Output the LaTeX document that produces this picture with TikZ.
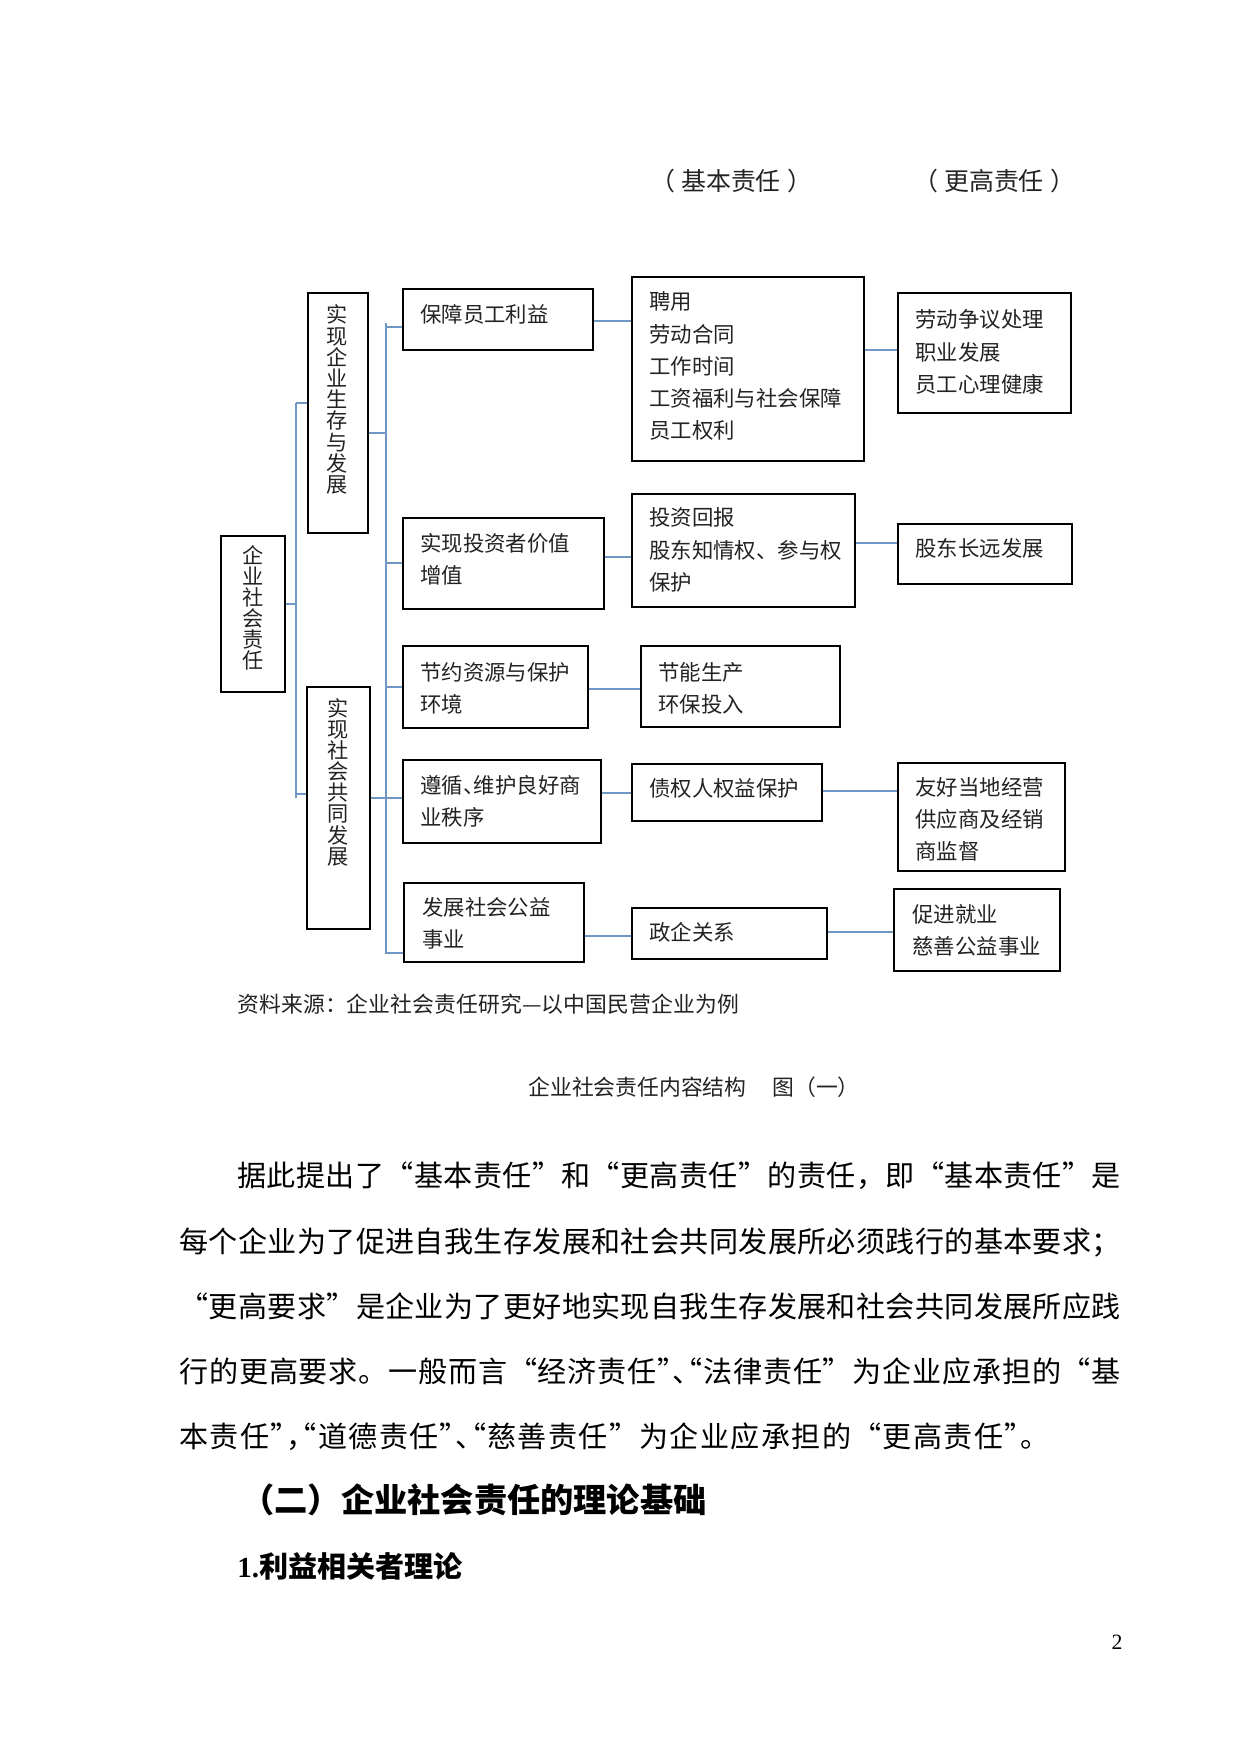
\documentclass[tikz,border=0pt]{standalone}
\usepackage{fontspec}
\setmainfont{Noto Sans CJK SC}
\newfontfamily\latinserif{Liberation Serif}
\usetikzlibrary{fit}
\definecolor{lnblue}{RGB}{112,151,196}
\definecolor{boxtext}{RGB}{35,35,35}
\makeatletter
\newcommand\spreadline[2]{\makebox[#1][s]{\@tfor\sp@c:=#2\do{\sp@c\hskip 0pt plus 1fil minus 1fil\relax}\unskip}}
\newcommand\vt[1]{\vtop{\baselineskip=10.2pt\lineskiplimit=-\maxdimen\lineskip=0pt
  \@tfor\vt@c:=#1\do{\hbox to 10.2pt{\hss\vt@c\hss}}}}
\makeatother
\newcommand\ml[1]{\begin{tabular}[t]{@{}l@{}}#1\end{tabular}}
\newcommand\hR{\makebox[0.5em][l]{”}}
\newcommand\hL{\makebox[0.5em][r]{“}}
\newcommand\hD{\makebox[0.5em][l]{、}}
\newcommand\hC{\makebox[0.5em][l]{，}}
\newcommand\hP{\makebox[0.5em][l]{。}}
\begin{document}
\begin{tikzpicture}[x=0.16922mm, y=-0.16922mm,
  box/.style={draw=black, line width=0.9pt, inner sep=0pt},
  thinbox/.style={box, line width=0.6pt},
  txt/.style={anchor=base west, inner sep=0pt, text=boxtext, font=\fontsize{10.3}{15.45}\selectfont},
  vtxt/.style={anchor=base, inner sep=0pt, text=boxtext, font=\fontsize{10.2}{10.2}\selectfont},
  small/.style={anchor=base west, inner sep=0pt, text=boxtext, font=\fontsize{10.5}{10.5}\selectfont},
  body/.style={anchor=base west, inner sep=0pt, text=black, font=\fontsize{14}{14}\selectfont},
  conn/.style={draw=lnblue, line width=1.3pt},
  thinconn/.style={draw=lnblue, line width=0.85pt},
]
\fill[white] (0,0) rectangle (1241,1754);
\useasboundingbox (0,0) rectangle (1241,1754);

% headings above the diagram
\node[anchor=base, inner sep=0pt, font=\fontsize{12}{12}\selectfont, text=boxtext] (hb) at (731,191) {（\hspace{3pt}基本责任\hspace{3pt}）};
\node[anchor=base, inner sep=0pt, font=\fontsize{12}{12}\selectfont, text=boxtext] (hg) at (994,191) {（\hspace{3pt}更高责任\hspace{3pt}）};

% boxes
\node[box, fit={(221,536) (285,692)}] (root) {};
\node[thinbox, fit={(308,293) (368,533)}] (s1) {};
\node[box, fit={(307,687) (370,929)}] (s2) {};

\node[box, fit={(403,289) (593,350)}] (c1) {};
\node[box, fit={(403,518) (604,609)}] (c2) {};
\node[box, fit={(403,646) (588,728)}] (c3) {};
\node[box, fit={(403,760) (601,843)}] (c4) {};
\node[box, fit={(404,883) (584,962)}] (c5) {};

\node[box, fit={(632,277) (864,461)}] (d1) {};
\node[box, fit={(632,494) (855,607)}] (d2) {};
\node[thinbox, fit={(641,646) (840,727)}] (d3) {};
\node[box, fit={(632,764) (822,821)}] (d4) {};
\node[box, fit={(632,908) (827,959)}] (d5) {};

\node[box, fit={(898,293) (1071,413)}] (e1) {};
\node[box, fit={(898,524) (1072,584)}] (e2) {};
\node[box, fit={(898,763) (1065,871)}] (e4) {};
\node[box, fit={(894,889) (1060,971)}] (e5) {};

% texts in boxes
\node[vtxt] (roott) at (253,563) {\vt{企业社会责任}};
\node[vtxt] (s1t) at (337,323) {\vt{实现企业生存与发展}};
\node[vtxt] (s2t) at (338,716) {\vt{实现社会共同发展}};

\node[txt] (c1t) at (420,323) {\ml{保障员工利益}};
\node[txt] (c2t) at (420,551) {\ml{实现投资者价值\\增值}};
\node[txt] (c3t) at (420,680) {\ml{节约资源与保护\\环境}};
\node[txt] (c4t) at (420,793) {\ml{遵循\hD 维护良好商\\业秩序}};
\node[txt] (c5t) at (422,915) {\ml{发展社会公益\\事业}};

\node[txt] (d1t) at (649,310) {\ml{聘用\\劳动合同\\工作时间\\工资福利与社会保障\\员工权利}};
\node[txt] (d2t) at (649,526) {\ml{投资回报\\股东知情权、参与权\\保护}};
\node[txt] (d3t) at (658,680) {\ml{节能生产\\环保投入}};
\node[txt] (d4t) at (649,796) {\ml{债权人权益保护}};
\node[txt] (d5t) at (649,940) {\ml{政企关系}};

\node[txt] (e1t) at (915,328) {\ml{劳动争议处理\\职业发展\\员工心理健康}};
\node[txt] (e2t) at (915,556) {\ml{股东长远发展}};
\node[txt] (e4t) at (915,795) {\ml{友好当地经营\\供应商及经销\\商监督}};
\node[txt] (e5t) at (912,922) {\ml{促进就业\\慈善公益事业}};

% first bracket
\coordinate (sp1top) at (296,403);
\coordinate (sp1mid) at (296,604);
\coordinate (sp1low) at (296,794);
\coordinate (sp1bot) at (296,798);
\draw[conn] (sp1top) -- (sp1bot);
\draw[conn] (sp1top) -- (sp1top -| s1.west);
\draw[conn] (sp1mid -| root.east) -- (sp1mid);
\draw[conn] (sp1low) -- (sp1low -| s2.west);

% second bracket
\coordinate (sp2top) at (386,323);
\coordinate (sp2bot) at (386,953);
\draw[conn] (sp2top) -- (sp2bot) -- (sp2bot -| c5.west);
\coordinate (k1) at (386,327);
\coordinate (k2) at (386,433);
\coordinate (k3) at (386,563);
\coordinate (k4) at (386,687);
\coordinate (k5) at (386,798);
\draw[conn] (k1) -- (k1 -| c1.west);
\draw[conn] (k2 -| s1.east) -- (k2);
\draw[conn] (k3) -- (k3 -| c2.west);
\draw[conn] (k4) -- (k4 -| c3.west);
\draw[conn] (k5 -| s2.east) -- (k5 -| c4.west);

% horizontal links
\coordinate (h1) at (0,321);
\coordinate (h2) at (0,350);
\coordinate (h3) at (0,557);
\coordinate (h4) at (0,543);
\coordinate (h5) at (0,689);
\coordinate (h6) at (0,793);
\coordinate (h7) at (0,791);
\coordinate (h8) at (0,936);
\coordinate (h9) at (0,932);
\draw[thinconn] (h1 -| c1.east) -- (h1 -| d1.west);
\draw[conn] (h2 -| d1.east) -- (h2 -| e1.west);
\draw[thinconn] (h3 -| c2.east) -- (h3 -| d2.west);
\draw[thinconn] (h4 -| d2.east) -- (h4 -| e2.west);
\draw[conn] (h5 -| c3.east) -- (h5 -| d3.west);
\draw[thinconn] (h6 -| c4.east) -- (h6 -| d4.west);
\draw[conn] (h7 -| d4.east) -- (h7 -| e4.west);
\draw[conn] (h8 -| c5.east) -- (h8 -| d5.west);
\draw[thinconn] (h9 -| d5.east) -- (h9 -| e5.west);

% source and caption
\node[small] (src) at (237,1012) {\spreadline{241.5pt}{资料来源：企业社会责任研究—以中国民营企业为例}};
\node[small] (cap) at (528,1095) {企业社会责任内容结构\hspace{12.5pt}图（一）};

% body text
\node[body] (l1) at (237,1186) {\spreadline{425.4pt}{据此提出了“基本责任”和“更高责任”的责任，即“基本责任”是}};
\node[body] (l2) at (179,1252) {\spreadline{453.3pt}{每个企业为了促进自我生存发展和社会共同发展所必须践行的基本要求；}};
\node[body] (l3) at (179,1317) {\spreadline{453.3pt}{“更高要求”是企业为了更好地实现自我生存发展和社会共同发展所应践}};
\node[body] (l4) at (179,1382) {\spreadline{453.3pt}{行的更高要求。一般而言“经济责任{\hR}{\hD}{\hL}法律责任”为企业应承担的“基}};
\node[body] (l5) at (179,1447) {\spreadline{411.9pt}{本责任{\hR}{\hC}{\hL}道德责任{\hR}{\hD}{\hL}慈善责任”为企业应承担的“更高责任{\hR}{\hP}}};

% headings
\node[anchor=base west, inner sep=0pt, font=\bfseries\fontsize{16}{16}\selectfont] (sec) at (241,1512) {（二）企业社会责任的理论基础};
\node[anchor=base west, inner sep=0pt, font=\bfseries\fontsize{14}{14}\selectfont] (sub) at (237,1577) {{\latinserif\bfseries 1.}利益相关者理论};

% page number
\node[anchor=base, inner sep=0pt, font=\latinserif\fontsize{10.5}{10.5}\selectfont] (pg) at (1117,1649) {2};
\end{tikzpicture}
\end{document}
